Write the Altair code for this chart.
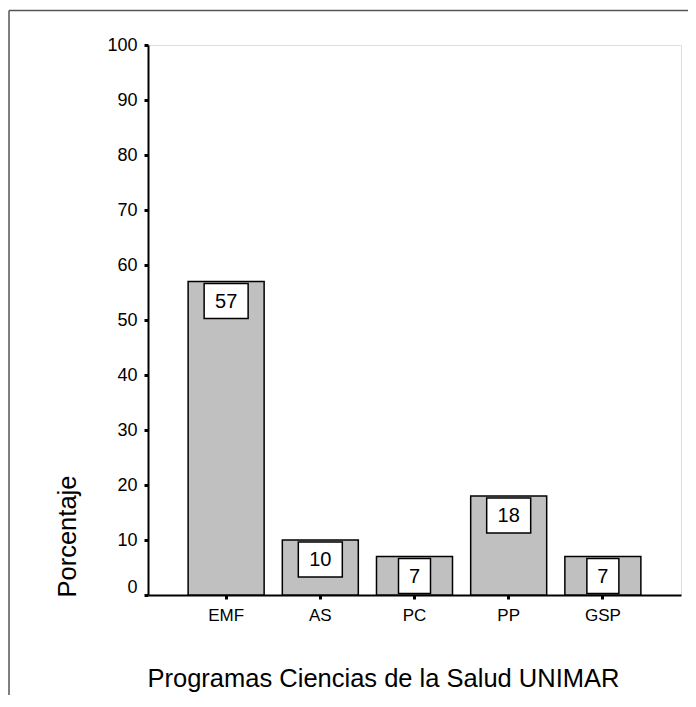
import altair as alt
import pandas as pd

categories = ["EMF", "AS", "PC", "PP", "GSP"]
values = [57, 10, 7, 18, 7]
y_ticks = [0, 10, 20, 30, 40, 50, 60, 70, 80, 90, 100]

df = pd.DataFrame({"programa": categories, "pct": values})

FONT = "Liberation Sans"

x_enc = alt.X(
    "programa:N",
    sort=categories,
    scale=alt.Scale(paddingInner=0.193, paddingOuter=0.426),
    axis=alt.Axis(
        title="Programas Ciencias de la Salud UNIMAR",
        labelAngle=0,
        labelFont=FONT,
        labelFontSize=17,
        labelColor="black",
        labelPadding=8,
        tickColor="black",
        tickSize=4,
        tickWidth=3,
        domainColor="black",
        domainWidth=2,
        titleFont=FONT,
        titleFontSize=25.5,
        titleFontWeight="normal",
        titleColor="black",
        titleAnchor="start",
        titleAlign="left",
        titleBaseline="alphabetic",
        titleX=-1,
        titleY=91,
    ),
)

y_scale = alt.Scale(domain=[0, 100], nice=False)
y_enc = alt.Y(
    "pct:Q",
    scale=y_scale,
    axis=alt.Axis(
        title="Porcentaje",
        values=y_ticks,
        grid=False,
        labelFont=FONT,
        labelFontSize=18,
        labelColor="black",
        labelPadding=7,
        labelOffset=alt.condition("datum.value === 0", alt.value(-8), alt.value(0)),
        tickColor="black",
        tickSize=4,
        tickWidth=3,
        domainColor="black",
        domainWidth=2,
        titleFont=FONT,
        titleFontSize=25.5,
        titleFontWeight="normal",
        titleColor="black",
        titleAngle=-90,
        titleAlign="left",
        titleBaseline="alphabetic",
        titleX=-73,
        titleY=552,
    ),
)

bars = alt.Chart(df).mark_bar(
    color="#c0c0c0", stroke="black", strokeWidth=1.5
).encode(x=x_enc, y=y_enc)

box_enc = dict(
    x=alt.X("programa:N", sort=categories),
    y=alt.Y("pct:Q", scale=y_scale),
    y2=alt.Y2("pct:Q"),
)

boxes2 = alt.Chart(df).transform_filter("datum.pct >= 10").mark_bar(
    width=44, fill="white", stroke="black", strokeWidth=1.5,
    yOffset=2, y2Offset=37,
).encode(**box_enc)

boxes1 = alt.Chart(df).transform_filter("datum.pct < 10").mark_bar(
    width=32, fill="white", stroke="black", strokeWidth=1.5,
    yOffset=2, y2Offset=37,
).encode(**box_enc)

labels = alt.Chart(df).mark_text(
    font=FONT, fontSize=20, color="black", baseline="middle", align="center",
    yOffset=20,
).encode(
    x=alt.X("programa:N", sort=categories),
    y=alt.Y("pct:Q", scale=y_scale),
    text=alt.Text("pct:Q"),
)

frame_data = alt.Data(values=[{"k": 1}])
frame_top = alt.Chart(frame_data).mark_rule(color="#555555", strokeWidth=1.5).encode(
    x=alt.value(-139), x2=alt.value(560), y=alt.value(-34.5)
)
frame_left = alt.Chart(frame_data).mark_rule(color="#555555", strokeWidth=1.5).encode(
    x=alt.value(-139), y=alt.value(-34.5), y2=alt.value(700)
)

chart = alt.layer(bars, boxes2, boxes1, labels, frame_top, frame_left).properties(
    width=533,
    height=550,
    padding={"left": 140, "top": 37, "right": 7, "bottom": 100},
    autosize=alt.AutoSizeParams(type="none"),
).configure_view(
    stroke="black", strokeWidth=1.5
).configure(background="white")

chart.save("out.html", embed_options={"renderer": "svg", "actions": False})
